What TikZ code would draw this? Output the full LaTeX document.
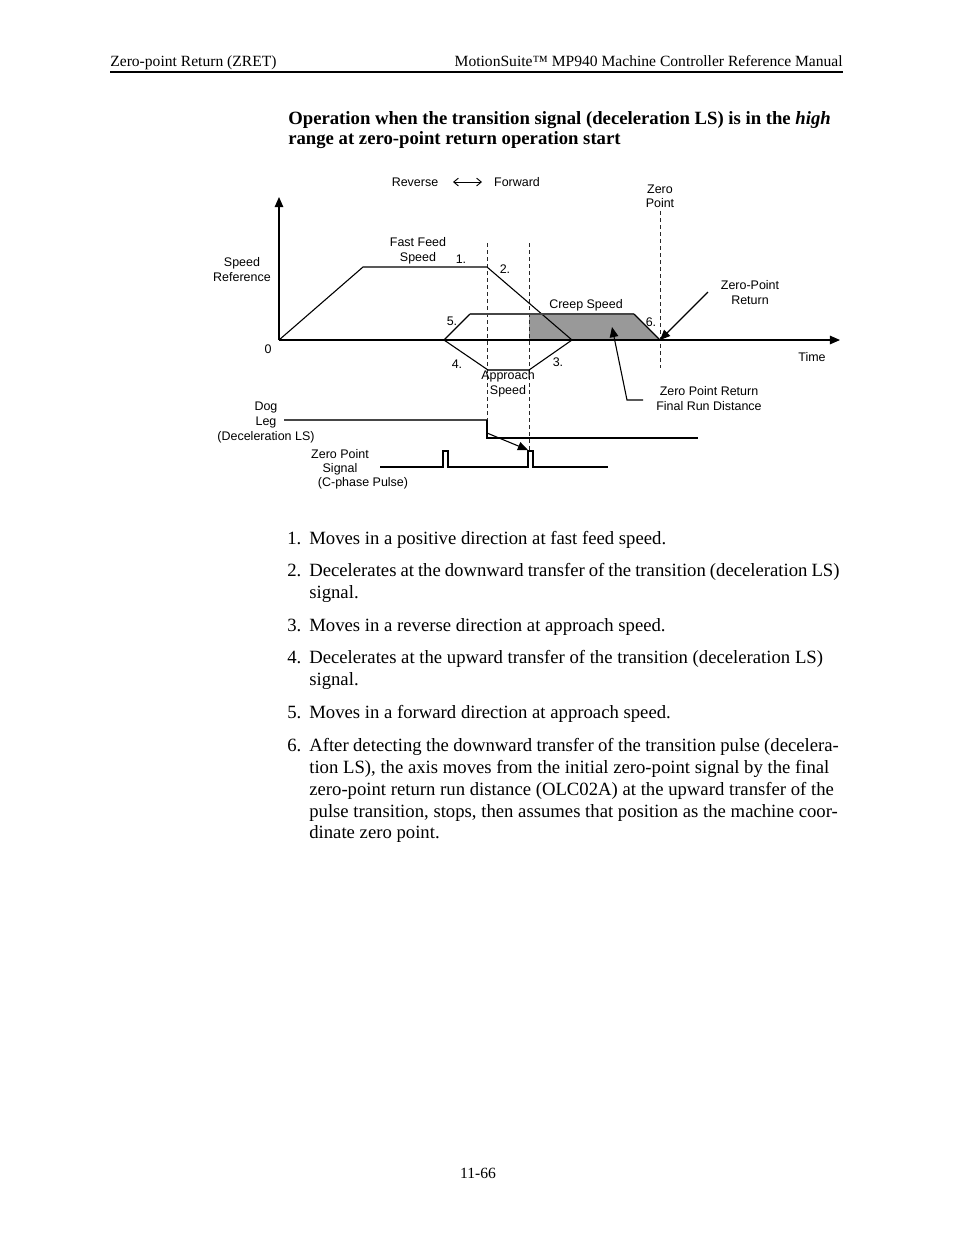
\documentclass[tikz,border=0pt]{standalone}
\usepackage{fontspec}
\setmainfont{Liberation Serif}
\newfontfamily\arial{Liberation Sans}
\usetikzlibrary{arrows.meta}
\definecolor{creepfill}{RGB}{153,153,153}
\definecolor{linegray}{RGB}{70,70,70}
\definecolor{dashgray}{RGB}{40,40,40}
\begin{document}
\begin{tikzpicture}[x=0.6415pt,y=-0.6415pt,
  lbl/.style={font=\arial\fontsize{8}{9.6}\selectfont, inner sep=0pt, align=center, yshift=-0.8pt},
  body/.style={font=\fontsize{12}{14}\selectfont, inner sep=0pt, anchor=base west},
  ttl/.style={font=\bfseries\fontsize{12}{14}\selectfont, inner sep=0pt, anchor=base west},
  hdr/.style={font=\fontsize{10}{12}\selectfont, inner sep=0pt},
  curve/.style={line width=0.7pt, black},
  guide/.style={line width=0.5pt, dashgray, dash pattern=on 2.6pt off 1.9pt},
  axisarrow/.style={line width=0.7pt, -{Triangle[length=6.5pt,width=5.5pt]}},
  callout/.style={line width=0.7pt, -{Triangle[length=6.5pt,width=5.5pt]}}
]
\useasboundingbox (0,0) rectangle (954,1235);

% ---------- header ----------
\node[hdr, anchor=base west] (hl) at (110,66) {Zero-point Return (ZRET)};
\node[hdr, anchor=base east] (hr) at (843,66) {MotionSuite™ MP940 Machine Controller Reference Manual};
\coordinate (rl) at (110,72);
\coordinate (rr) at (843,72);
\draw[line width=0.8pt] (rl) -- (rr);

% ---------- title ----------
\node[ttl] (t1) at (288,124) {Operation when the transition signal (deceleration LS) is in the \textit{high}};
\node[ttl] (t2) at (288,144) {range at zero-point return operation start};

% ---------- diagram coordinates ----------
\coordinate (O) at (279,340);
\coordinate (ytop) at (279,197);
\coordinate (xend) at (840,340);
\coordinate (ff1) at (363,267);
\coordinate (ff2) at (487,267);
\coordinate (z3) at (572,340);
\coordinate (ap1) at (529,370);
\coordinate (ap2) at (488,370);
\coordinate (z4) at (444,340);
\coordinate (cr1) at (470,314);
\coordinate (cr2) at (634,314);
\coordinate (zp) at (660,340);

% shaded creep region
\fill[creepfill] (529,314) -- (cr2) -- (zp) -- (529,340) -- cycle;

% dashed guides
\draw[guide] (487,243) -- (487,420);
\draw[guide] (529,243) -- (529,451);
\draw[guide] (660,211) -- (660,368);

% axes
\draw[axisarrow] (O) -- (ytop);
\draw[axisarrow] (O) -- (xend);

% speed profile
\draw[curve] (O) -- (ff1) -- (ff2) -- (z3) -- (ap1);
\draw[line width=0.7pt, linegray] (ap1) -- (ap2);
\draw[curve] (ap2) -- (z4) -- (cr1);
\draw[line width=0.9pt, linegray] (cr1) -- (cr2);
\draw[curve] (cr2) -- (zp);

% direction labels
\node[lbl] (rev) at (415,181) {Reverse};
\node[lbl] (fwd) at (517,181) {Forward};
\draw[line width=0.6pt, {Straight Barb[length=3pt,width=5pt]}-{Straight Barb[length=3pt,width=5pt]}] (453,182) -- (482,182);

% labels
\node[lbl] (zpl) at (660,195) {Zero\\Point};
\node[lbl] (ffs) at (418,250) {Fast Feed\\Speed};
\node[lbl] (n1) at (461,258) {1.};
\node[lbl] (n2) at (505,268) {2.};
\node[lbl] (sref) at (242,268) {Speed\\Reference};
\node[lbl] (creep) at (586,304) {Creep Speed};
\node[lbl] (n5) at (452,320) {5.};
\node[lbl] (n6) at (651,321) {6.};
\node[lbl] (zpr) at (750,291) {Zero-Point\\Return};
\node[lbl] (zero) at (268,348) {0};
\node[lbl] (time) at (812,356) {Time};
\node[lbl] (n4) at (457,363) {4.};
\node[lbl] (n3) at (558,361) {3.};
\node[lbl] (apsp) at (508,383) {Approach\\Speed};
\node[lbl] (frd) at (709,397) {Zero Point Return\\Final Run Distance};
\node[lbl] (dog) at (266,421) {Dog\\Leg\\(Deceleration LS)};
\node[lbl] (zps1) at (340,453) {Zero Point};
\node[lbl] (zps2) at (340,468) {Signal};
\node[lbl] (zps3) at (363,482) {(C-phase Pulse)};

% callouts
\coordinate (zprtail) at (708,292);
\draw[callout] (zprtail) -- (zp);
\coordinate (frd1) at (643,400);
\coordinate (frd2) at (627,400);
\coordinate (frdtip) at (612,327);
\draw[callout] (frd1) -- (frd2) -- (frdtip);

% dog leg signal
\coordinate (dl0) at (284,420);
\coordinate (dl1) at (487,420);
\coordinate (dl2) at (487,438);
\coordinate (dl3) at (698,438);
\draw[line width=0.7pt, linegray] (dl0) -- (dl1);
\draw[line width=0.7pt] (dl1) -- (dl2) -- (dl3);

% zero point signal
\draw[line width=0.7pt] (380,467) -- (443,467) -- (443,451) -- (448,451) -- (448,467) -- (528,467) -- (528,451) -- (533,451) -- (533,467) -- (535,467);
\draw[line width=1.3pt] (534,467) -- (608,467);
\coordinate (ar1) at (487,433);
\coordinate (ar2) at (528,450);
\draw[callout] (ar1) -- (ar2);

% ---------- numbered list ----------
\node[body] (l1n) at (287,544) {1.};
\node[body] (l1) at (309,544) {Moves in a positive direction at fast feed speed.};
\node[body] (l2n) at (287,576) {2.};
\node[body] (l2) at (309,576) {\spaceskip=2.55pt Decelerates at the downward transfer of the transition (deceleration LS)};
\node[body] (l2b) at (309,598) {signal.};
\node[body] (l3n) at (287,631) {3.};
\node[body] (l3) at (309,631) {Moves in a reverse direction at approach speed.};
\node[body] (l4n) at (287,663) {4.};
\node[body] (l4) at (309,663) {Decelerates at the upward transfer of the transition (deceleration LS)};
\node[body] (l4b) at (309,685) {signal.};
\node[body] (l5n) at (287,718) {5.};
\node[body] (l5) at (309,718) {Moves in a forward direction at approach speed.};
\node[body] (l6n) at (287,751) {6.};
\node[body] (l6a) at (309,751) {\spaceskip=2.8pt After detecting the downward transfer of the transition pulse (decelera-};
\node[body] (l6b) at (309,773) {tion LS), the axis moves from the initial zero-point signal by the final};
\node[body] (l6c) at (309,795) {zero-point return run distance (OLC02A) at the upward transfer of the};
\node[body] (l6d) at (309,817) {pulse transition, stops, then assumes that position as the machine coor-};
\node[body] (l6e) at (309,838) {dinate zero point.};

% ---------- page number ----------
\node[hdr, anchor=base] (pg) at (478,1178) {11-66};
\end{tikzpicture}
\end{document}
